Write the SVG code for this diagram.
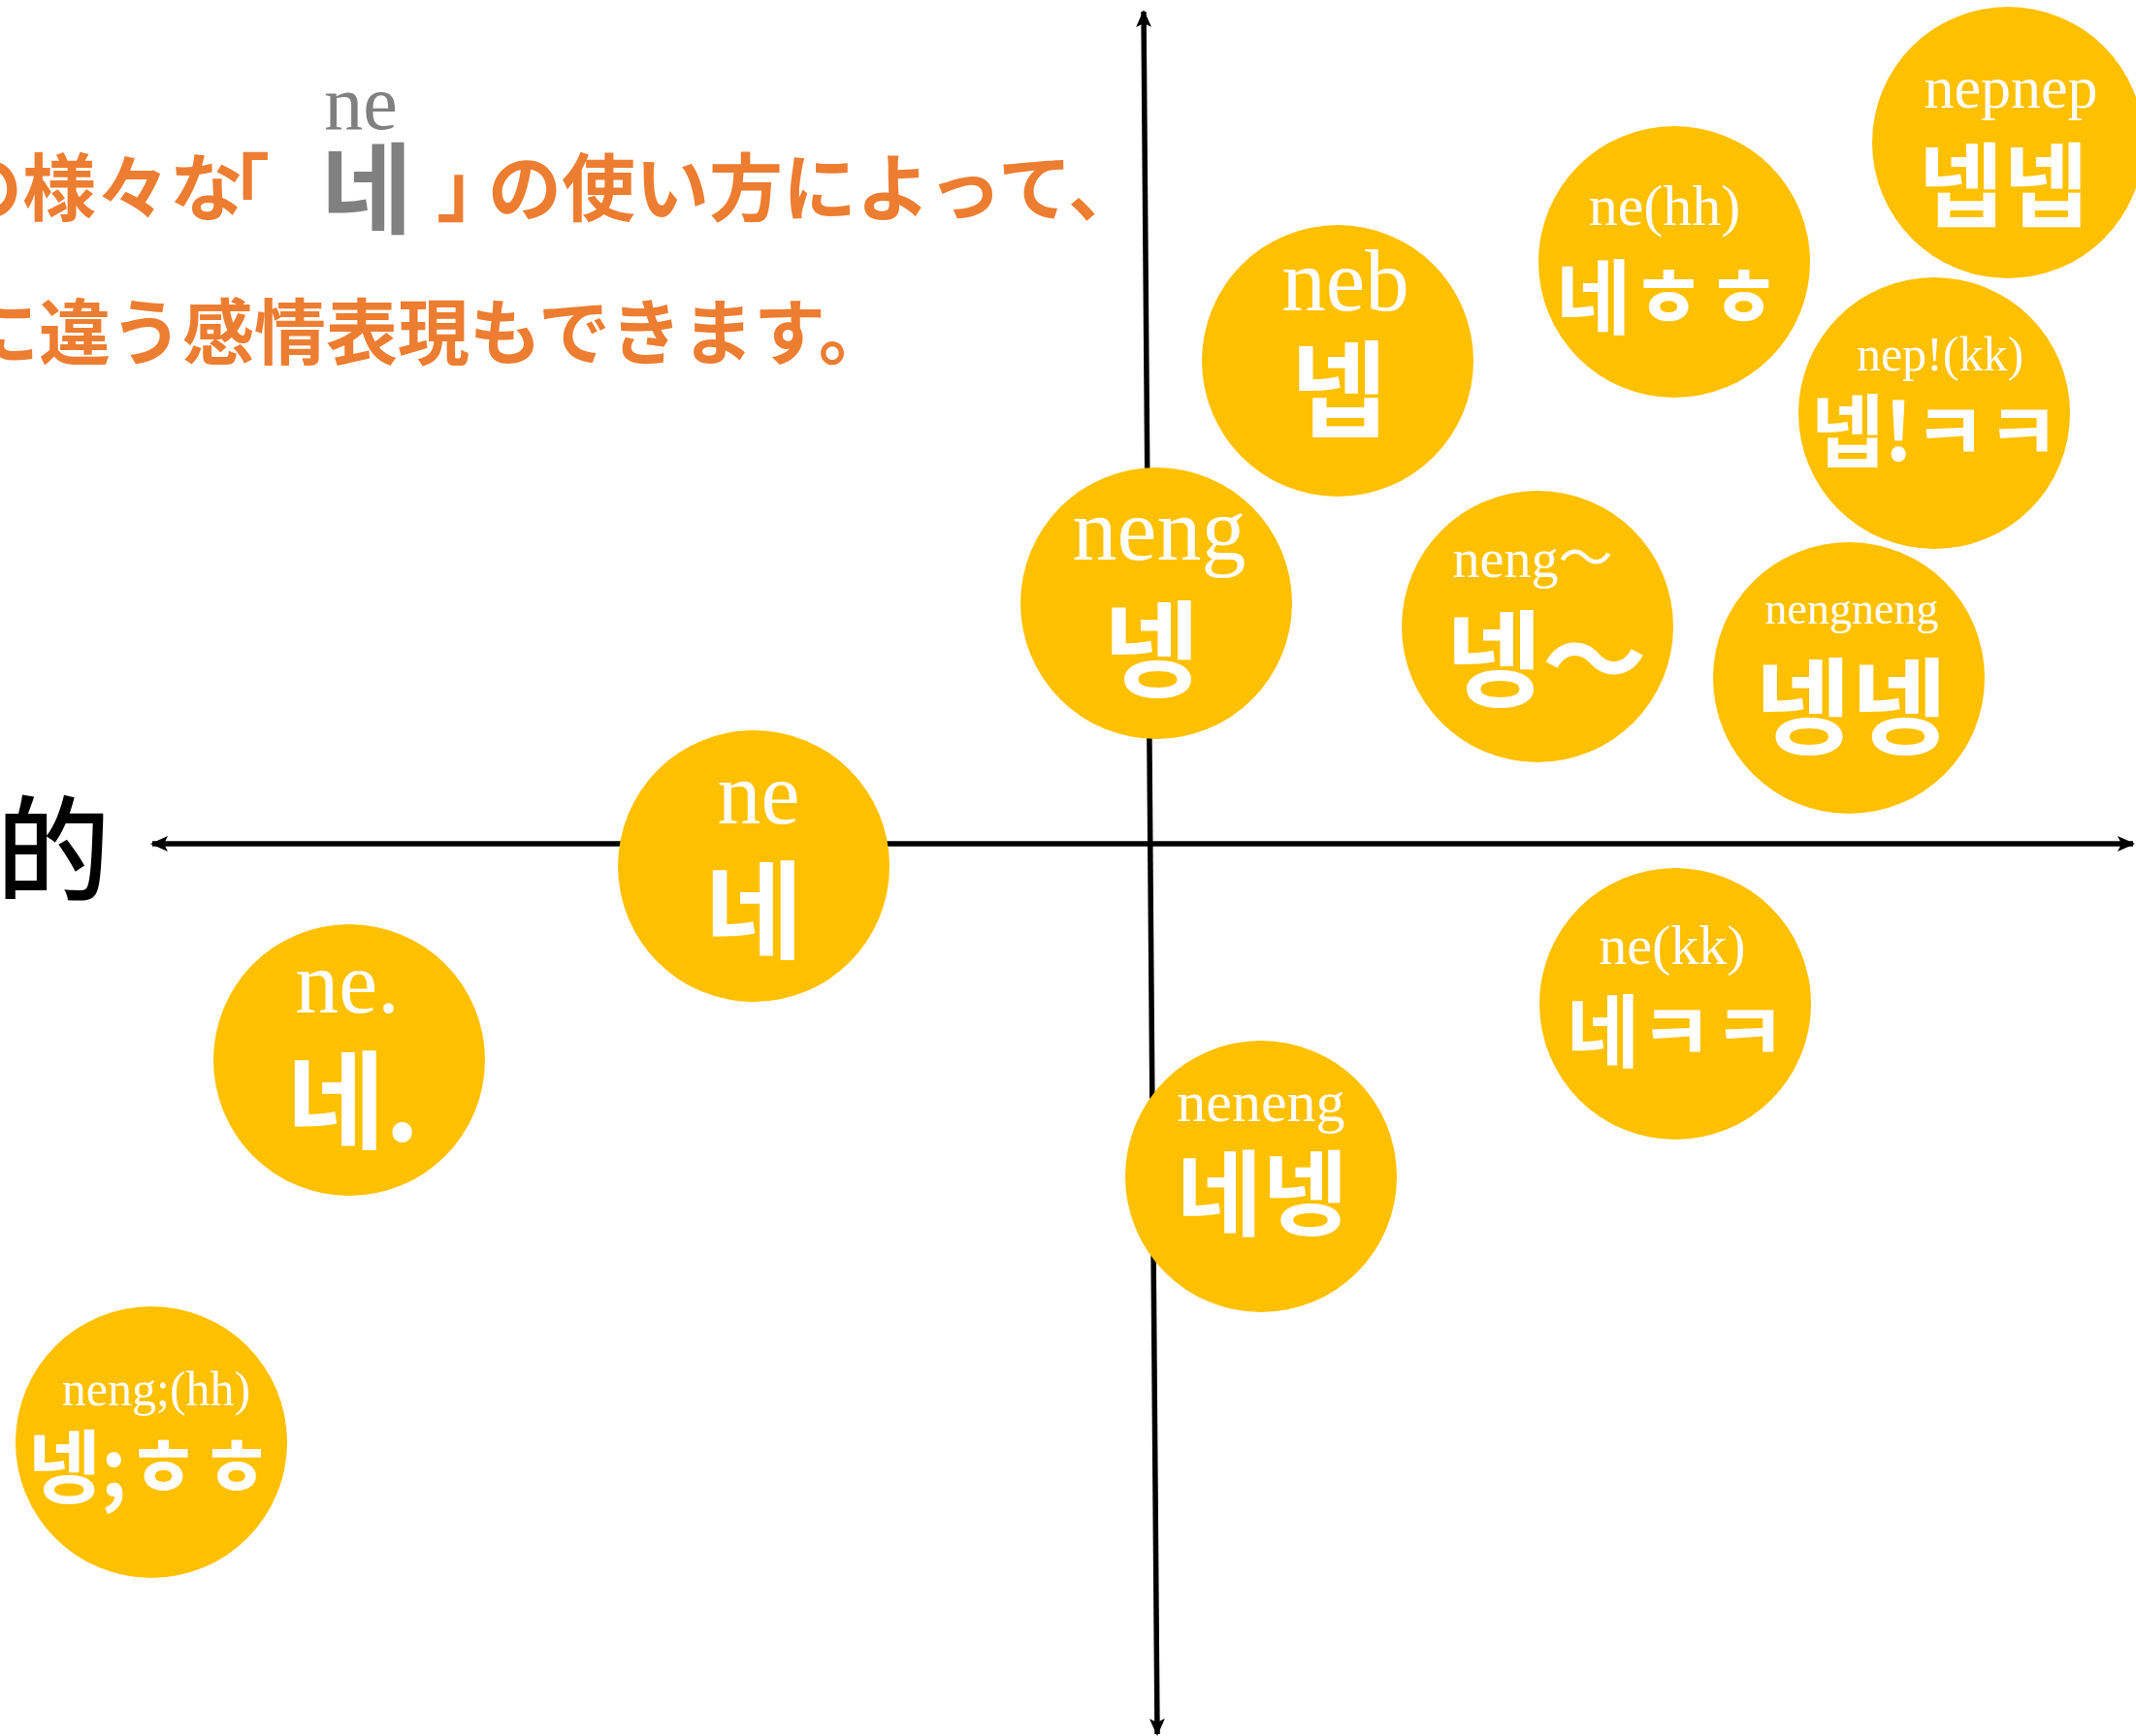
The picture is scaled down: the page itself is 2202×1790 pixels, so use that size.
<svg xmlns="http://www.w3.org/2000/svg" width="2202" height="1790" viewBox="0 0 2202 1790">
<style>
.node circle{fill:#FFC000}
.rom{font-family:"Liberation Serif","Noto Sans CJK JP",serif;fill:#fff;text-anchor:middle}
.han{font-family:"Noto Sans CJK KR",sans-serif;font-weight:700;fill:#fff;text-anchor:middle}
.title{font-family:"Noto Sans CJK JP",sans-serif;font-weight:700;fill:#ED7D31;font-size:76px}
.axis{stroke:#000;stroke-width:5.5;fill:none}
</style>
<defs>
<marker id="ah" viewBox="0 0 18 16" refX="16" refY="8" markerWidth="18" markerHeight="16" markerUnits="userSpaceOnUse" orient="auto-start-reverse">
<path d="M0,0 L18,8 L0,16 L4,8 z" fill="#000"/>
</marker>
</defs>
<rect width="2202" height="1790" fill="#fff"/>
<g id="title">
<text class="title" x="-53" y="222">の様々な</text>
<text class="title" x="202" y="222">「</text>
<text x="372" y="133" font-family="Liberation Serif,serif" font-size="80" fill="#808080" text-anchor="middle">ne</text>
<text x="378" y="233" font-family="Noto Sans CJK KR,sans-serif" font-weight="700" font-size="102" fill="#808080" text-anchor="middle">네</text>
<text class="title" x="450" y="222">」</text>
<text class="title" x="503" y="222">の使い方によって、</text>
<text class="title" x="-34" y="370" style="font-size:74px">に違う感情表現もできます。</text>
</g>
<text id="axis-label" x="-4" y="920" font-family="Noto Sans CJK JP,sans-serif" font-weight="500" font-size="118" fill="#000">的</text>
<g id="connectors">
<line class="axis" x1="157" y1="870" x2="2199" y2="870" marker-start="url(#ah)" marker-end="url(#ah)"/>
<line class="axis" x1="1179" y1="12" x2="1193" y2="1788" marker-start="url(#ah)" marker-end="url(#ah)"/>
</g>
<g id="n-ne" class="node"><circle cx="777" cy="893" r="140"/><text class="rom" x="782" y="849" font-size="90">ne</text><text class="han" x="777" y="980" font-size="110">네</text></g>
<g id="n-ne-dot" class="node"><circle cx="360" cy="1093" r="140"/><text class="rom" x="358" y="1044" font-size="90">ne.</text><text class="han" x="364" y="1176" font-size="110">네.</text></g>
<g id="n-neng-hh" class="node"><circle cx="156" cy="1487" r="140"/><text class="rom" x="161" y="1449" font-size="50">neng;(hh)</text><text class="han" x="155" y="1543" font-size="82">넹;ㅎㅎ</text></g>
<g id="n-neng" class="node"><circle cx="1192" cy="622" r="140"/><text class="rom" x="1195" y="577" font-size="92">neng</text><text class="han" x="1187" y="710" font-size="108">넹</text></g>
<g id="n-neb" class="node"><circle cx="1379" cy="372" r="140"/><text class="rom" x="1387" y="320" font-size="91">neb</text><text class="han" x="1380" y="442" font-size="108">넵</text></g>
<g id="n-ne-hh" class="node"><circle cx="1726" cy="270" r="140"/><text class="rom" x="1716" y="232" font-size="60">ne(hh)</text><text class="han" x="1720" y="338" font-size="84">네ㅎㅎ</text></g>
<g id="n-nepnep" class="node"><circle cx="2070" cy="147" r="140"/><text class="rom" x="2073" y="111" font-size="62">nepnep</text><text class="han" x="2065" y="227" font-size="95">넵넵</text></g>
<g id="n-nep-kk" class="node"><circle cx="1994" cy="426" r="140"/><text class="rom" x="2000" y="382" font-size="50">nep!(kk)</text><text class="han" x="1995" y="475" font-size="82">넵!ㅋㅋ</text></g>
<g id="n-neng-tilde" class="node"><circle cx="1585" cy="646" r="140"/><text class="rom" x="1580" y="595" font-size="56">neng〜</text><text class="han" x="1594" y="720" font-size="108">넹〜</text></g>
<g id="n-nengneng" class="node"><circle cx="1906" cy="699" r="140"/><text class="rom" x="1909" y="643" font-size="46">nengneng</text><text class="han" x="1908" y="769" font-size="108">넹넹</text></g>
<g id="n-ne-kk" class="node"><circle cx="1727" cy="1035" r="140"/><text class="rom" x="1724" y="994" font-size="58">ne(kk)</text><text class="han" x="1728" y="1094" font-size="82">네ㅋㅋ</text></g>
<g id="n-neneng" class="node"><circle cx="1300" cy="1213" r="140"/><text class="rom" x="1300" y="1156" font-size="60">neneng</text><text class="han" x="1301" y="1266" font-size="96">네넹</text></g>
</svg>
